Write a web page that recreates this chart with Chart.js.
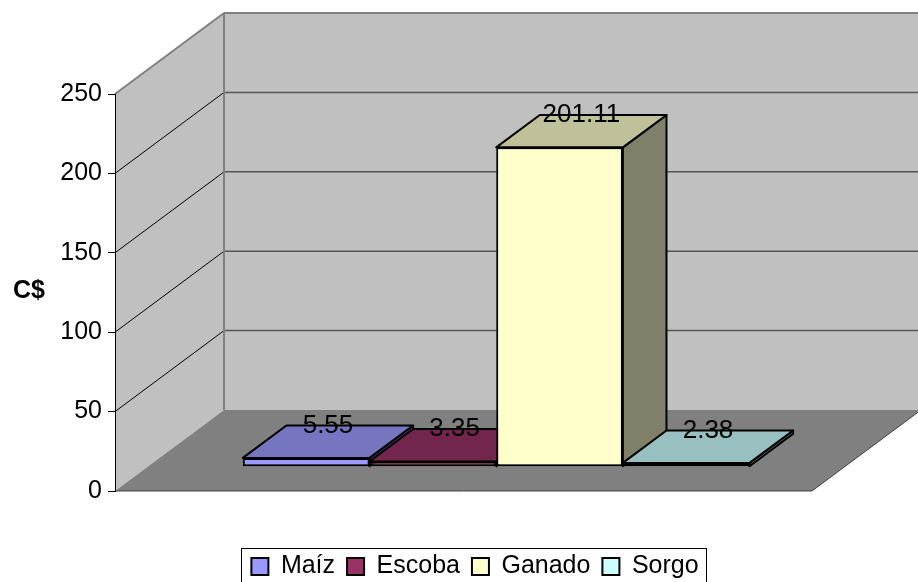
<!DOCTYPE html>
<html>
<head>
<meta charset="utf-8">
<script src="https://cdn.jsdelivr.net/npm/chart.js@4.4.0/dist/chart.umd.min.js"></script>
<style>
  body { margin: 0; background: #fff; }
  #wrap { width: 918px; height: 582px; }
</style>
</head>
<body>
<div id="wrap"><canvas id="chBar"></canvas></div>
<script>
// chart data
var categories = ['Maíz', 'Escoba', 'Ganado', 'Sorgo'];
var values = [5.55, 3.35, 201.11, 2.38];
var yMin = 0, yMax = 250, yStep = 50;
var axisTitle = 'C$';

// colors (front, top, side faces)
var frontColors = ['#9999ff', '#993366', '#ffffcc', '#ccffff'];
var topColors = ['#7575c0', '#73264d', '#c0c09a', '#99c0c0'];
var sideColors = ['#4d4d80', '#4d1a33', '#80806a', '#668080'];

var FONT = '"Liberation Sans", Arial, sans-serif';

// 3d depth of the walls, bars sit between F0 and F1 of it
var DX = 109, DY = -81;
var F0 = 0.3, F1 = 0.7;

function poly(ctx, pts, fill, stroke, lw) {
    ctx.beginPath();
    ctx.moveTo(pts[0][0], pts[0][1]);
    for (var i = 1; i < pts.length; i++) ctx.lineTo(pts[i][0], pts[i][1]);
    ctx.closePath();
    if (fill) { ctx.fillStyle = fill; ctx.fill(); }
    if (stroke) { ctx.strokeStyle = stroke; ctx.lineWidth = lw || 1; ctx.stroke(); }
}

function line(ctx, x1, y1, x2, y2, color, lw) {
    ctx.beginPath();
    ctx.moveTo(x1, y1);
    ctx.lineTo(x2, y2);
    ctx.strokeStyle = color;
    ctx.lineWidth = lw;
    ctx.stroke();
}

// walls + floor + gridlines
var wallsPlugin = {
    id: 'walls',
    beforeDraw: function (chart) {
        var ctx = chart.ctx, a = chart.chartArea, y = chart.scales.y;
        var top = y.getPixelForValue(yMax), bot = y.getPixelForValue(yMin);
        var W = chart.width + 10;
        ctx.save();
        poly(ctx, [[a.left, top], [a.left + DX, top + DY], [a.left + DX, bot + DY], [a.left, bot]], '#c0c0c0');
        poly(ctx, [[a.left + DX, top + DY], [W, top + DY], [W, bot + DY], [a.left + DX, bot + DY]], '#c0c0c0');
        poly(ctx, [[a.left, bot], [a.left + DX, bot + DY], [a.right + DX, bot + DY], [a.right, bot]], '#808080');

        y.ticks.forEach(function (t) {
            if (t.value === yMin || t.value === yMax) return;
            var py = y.getPixelForValue(t.value);
            line(ctx, a.left, py, a.left + DX, py + DY, '#000', 1);
            line(ctx, a.left + DX, py + DY, W, py + DY, '#555', 1.5);
        });
        // wall edges
        line(ctx, a.left, top, a.left + DX, top + DY, '#808080', 2);
        line(ctx, a.left + DX, top + DY, W, top + DY, '#808080', 2);
        line(ctx, a.left + DX, top + DY, a.left + DX, bot + DY, '#808080', 2);
        // floor edges
        line(ctx, a.left, bot, a.right, bot, '#404040', 1);
        line(ctx, a.right, bot, a.right + DX, bot + DY, '#404040', 1);
        ctx.restore();
    },
    afterDraw: function (chart) {
        var ctx = chart.ctx;
        ctx.save();
        ctx.fillStyle = '#000';
        ctx.font = 'bold 25px ' + FONT;
        ctx.textAlign = 'center';
        ctx.textBaseline = 'middle';
        ctx.fillText(axisTitle, 29, 291);
        // legend frame
        var hb = chart.legend.legendHitBoxes;
        if (hb && hb.length) {
            var l = hb[0].left - 10;
            var last = hb[hb.length - 1];
            var r = last.left + last.width + 8;
            var t = hb[0].top - 6;
            ctx.strokeStyle = '#000';
            ctx.lineWidth = 1;
            ctx.strokeRect(Math.round(l) + 0.5, Math.round(t) + 0.5, Math.round(r - l), 60);
        }
        ctx.restore();
    }
};

// top and side faces, then shift the front faces into the depth
var bars3dPlugin = {
    id: 'bars3d',
    beforeDatasetsDraw: function (chart) {
        var ctx = chart.ctx;
        var ddx = (F1 - F0) * DX, ddy = (F1 - F0) * DY;
        ctx.save();
        ctx.lineJoin = 'round';
        for (var i = 0; i < chart.data.datasets.length; i++) {
            var el = chart.getDatasetMeta(i).data[0];
            var p = el.getProps(['x', 'y', 'base', 'width'], true);
            var l = p.x - p.width / 2 + F0 * DX, r = l + p.width;
            var yt = p.y + F0 * DY, yb = p.base + F0 * DY;
            poly(ctx, [[r, yt], [r + ddx, yt + ddy], [r + ddx, yb + ddy], [r, yb]], sideColors[i], '#000', 2);
            poly(ctx, [[l, yt], [r, yt], [r + ddx, yt + ddy], [l + ddx, yt + ddy]], topColors[i], '#000', 2);
        }
        ctx.restore();
        ctx.save();
        ctx.translate(F0 * DX, F0 * DY);
    },
    afterDatasetsDraw: function (chart) {
        var ctx = chart.ctx;
        ctx.restore();
        var ddx = (F1 - F0) * DX, ddy = (F1 - F0) * DY;
        ctx.save();
        ctx.fillStyle = '#000';
        ctx.font = '26px ' + FONT;
        ctx.textAlign = 'center';
        ctx.textBaseline = 'middle';
        for (var i = 0; i < chart.data.datasets.length; i++) {
            var el = chart.getDatasetMeta(i).data[0];
            var p = el.getProps(['x', 'y', 'width'], true);
            var cx = p.x + F0 * DX + ddx / 2;
            var cy = p.y + F0 * DY + ddy;
            ctx.fillText(values[i].toFixed(2), cx, cy);
        }
        ctx.restore();
    }
};

var datasets = categories.map(function (c, i) {
    return {
        label: c,
        data: [values[i]],
        backgroundColor: frontColors[i],
        borderColor: '#000',
        borderWidth: 2,
        borderSkipped: false,
        clip: false,
        categoryPercentage: 0.727,
        barPercentage: 1.0
    };
});

new Chart(document.getElementById('chBar'), {
    type: 'bar',
    data: { labels: [''], datasets: datasets },
    options: {
        responsive: true,
        maintainAspectRatio: false,
        animation: false,
        layout: { padding: { left: 32, top: 94, right: 0, bottom: -7 } },
        scales: {
            x: {
                grid: { display: false },
                ticks: { display: false },
                border: { display: false },
                afterFit: function (s) { s.height = 51; }
            },
            y: {
                min: yMin,
                max: yMax,
                ticks: { stepSize: yStep, color: '#000', font: { family: FONT, size: 25 }, padding: 6 },
                grid: { drawOnChartArea: false, drawTicks: true, tickLength: 7, color: '#000' },
                border: { display: true, color: '#000', width: 1 },
                afterFit: function (s) { s.width = 83; }
            },
            // empty right axis, only keeps room for the walls' depth
            yRight: {
                type: 'linear',
                position: 'right',
                min: yMin,
                max: yMax,
                grid: { display: false },
                ticks: { display: false },
                border: { display: false },
                afterFit: function (s) { s.width = 106; }
            }
        },
        plugins: {
            tooltip: { enabled: false },
            legend: {
                position: 'bottom',
                labels: {
                    color: '#000',
                    font: { family: FONT, size: 25 },
                    boxWidth: 17,
                    boxHeight: 17,
                    padding: 12
                }
            }
        }
    },
    plugins: [wallsPlugin, bars3dPlugin]
});
</script>
</body>
</html>
